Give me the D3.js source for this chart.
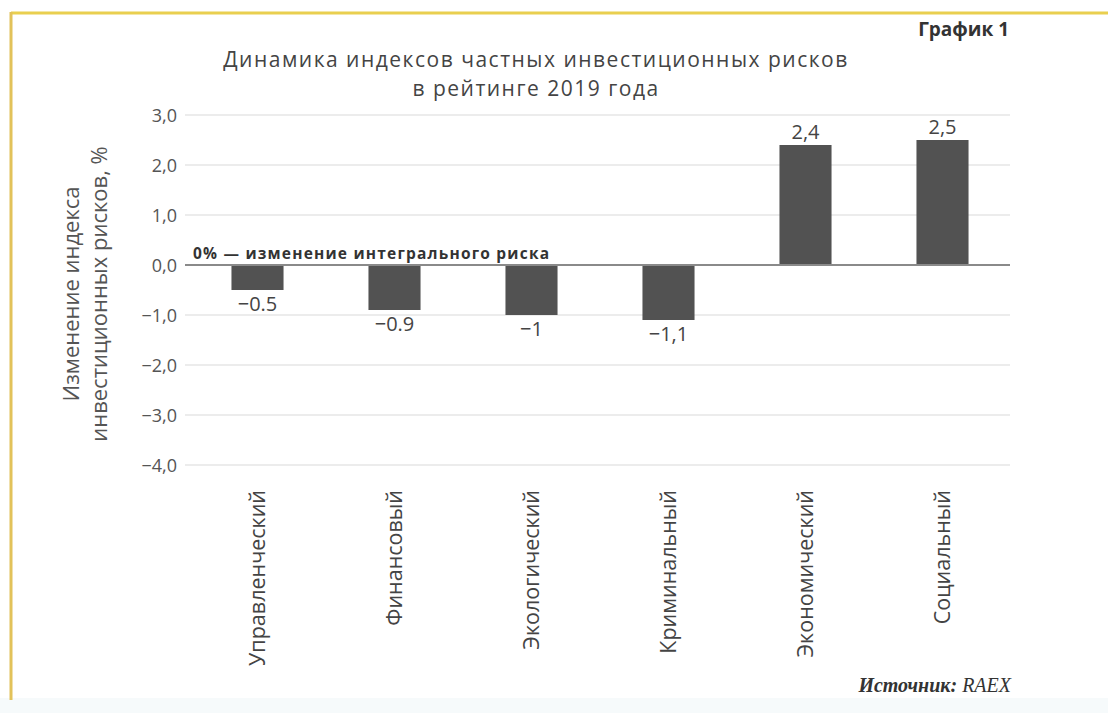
<!DOCTYPE html>
<html><head><meta charset="utf-8">
<script src="https://cdn.jsdelivr.net/npm/d3@7"></script>
<style>body{margin:0;background:#fff;}svg{display:block;}</style>
</head><body>
<svg id="c" width="1108" height="713"></svg>
<script>
const categories = ["Управленческий","Финансовый","Экологический","Криминальный","Экономический","Социальный"];
const values = [-0.5, -0.9, -1.0, -1.1, 2.4, 2.5];
const valueLabels = ["\u22120.5","\u22120.9","\u22121","\u22121,1","2,4","2,5"];
const yTicks = [3,2,1,0,-1,-2,-3,-4];
const yTickLabels = ["3,0","2,0","1,0","0,0","\u22121,0","\u22122,0","\u22123,0","\u22124,0"];
const titleLines = ["Динамика индексов частных инвестиционных рисков","в рейтинге 2019 года"];
const yTitleLines = ["Изменение индекса","инвестиционных рисков, %"];

const svg = d3.select("#c");
const font = "'Open Sans', 'Noto Sans', sans-serif";

// frame
svg.append("rect").attr("x",0).attr("y",0).attr("width",1108).attr("height",713).attr("fill","#fff");
svg.append("rect").attr("x",0).attr("y",698).attr("width",1108).attr("height",15).attr("fill","#f6fafb");
svg.append("line").attr("x1",11).attr("x2",1108).attr("y1",13).attr("y2",13).attr("stroke","#e9cf4f").attr("stroke-width",3);
svg.append("line").attr("x1",11).attr("x2",11).attr("y1",12).attr("y2",700).attr("stroke","#e2c25a").attr("stroke-width",3);

const y = d3.scaleLinear().domain([-4,3]).range([465,115]);
const x = d3.scaleBand().domain(categories).range([189,1011]).paddingInner(0.62).paddingOuter(0.31);

// gridlines
svg.append("g").selectAll("line").data(yTicks.filter(d=>d!==0)).join("line")
  .attr("x1",185).attr("x2",1010).attr("y1",d=>y(d)).attr("y2",d=>y(d))
  .attr("stroke","#e6e6e6").attr("stroke-width",1.5);

// y axis labels
const yAxis = d3.axisLeft(y).tickValues(yTicks).tickSize(0).tickPadding(0)
  .tickFormat((d,i)=>yTickLabels[i]);
const ga = svg.append("g").attr("transform","translate(177,0)").call(yAxis);
ga.select(".domain").remove();
ga.selectAll("text").attr("font-family",font).attr("font-size",18).attr("fill","#555").attr("dy","0.35em");

// bars
svg.append("g").selectAll("rect").data(values).join("rect")
  .attr("x",(d,i)=>x(categories[i])).attr("width",x.bandwidth())
  .attr("y",d=>y(Math.max(0,d))).attr("height",d=>Math.abs(y(d)-y(0)))
  .attr("fill","#525252");

// zero line
svg.append("line").attr("x1",185).attr("x2",1010).attr("y1",y(0)).attr("y2",y(0))
  .attr("stroke","#8a8a8a").attr("stroke-width",2);

// value labels
svg.append("g").selectAll("text").data(values).join("text")
  .attr("x",(d,i)=>x(categories[i])+x.bandwidth()/2)
  .attr("y",d=> d>=0 ? y(d)-6 : y(d)+21)
  .attr("text-anchor","middle").attr("font-family",font).attr("font-size",20).attr("fill","#444")
  .text((d,i)=>valueLabels[i]);

// annotation
svg.append("text").attr("x",193).attr("y",y(0)-6).attr("font-family",font).attr("font-size",15.5)
  .attr("letter-spacing",1.2)
  .attr("font-weight","bold").attr("fill","#333").text("0% — изменение интегрального риска");

// category labels
svg.append("g").selectAll("text").data(categories).join("text")
  .attr("transform",d=>`translate(${x(d)+x.bandwidth()/2+7},490) rotate(-90)`)
  .attr("text-anchor","end").attr("font-family",font).attr("font-size",21.5).attr("fill","#444")
  .text(d=>d);

// title
svg.append("g").selectAll("text").data(titleLines).join("text")
  .attr("x",536).attr("y",(d,i)=>67+i*29).attr("text-anchor","middle")
  .attr("letter-spacing",1.5)
  .attr("font-family",font).attr("font-size",21).attr("fill","#444").text(d=>d);

svg.append("text").attr("x",1009).attr("y",36).attr("text-anchor","end").attr("font-family",font)
  .attr("font-size",19).attr("font-weight","bold").attr("fill","#333").text("График 1");

// y title
svg.append("g").selectAll("text").data(yTitleLines).join("text")
  .attr("transform",(d,i)=>`translate(${79+i*28},294) rotate(-90)`)
  .attr("text-anchor","middle").attr("font-family",font).attr("font-size",22).attr("fill","#555").text(d=>d);

// source
const src = svg.append("text").attr("x",1011).attr("y",692).attr("text-anchor","end")
  .attr("font-family","'Liberation Serif', 'DejaVu Serif', serif").attr("font-size",20)
  .attr("font-style","italic").attr("fill","#333");
src.append("tspan").attr("font-weight","bold").text("Источник: ");
src.append("tspan").text("RAEX");
</script>
</body></html>
